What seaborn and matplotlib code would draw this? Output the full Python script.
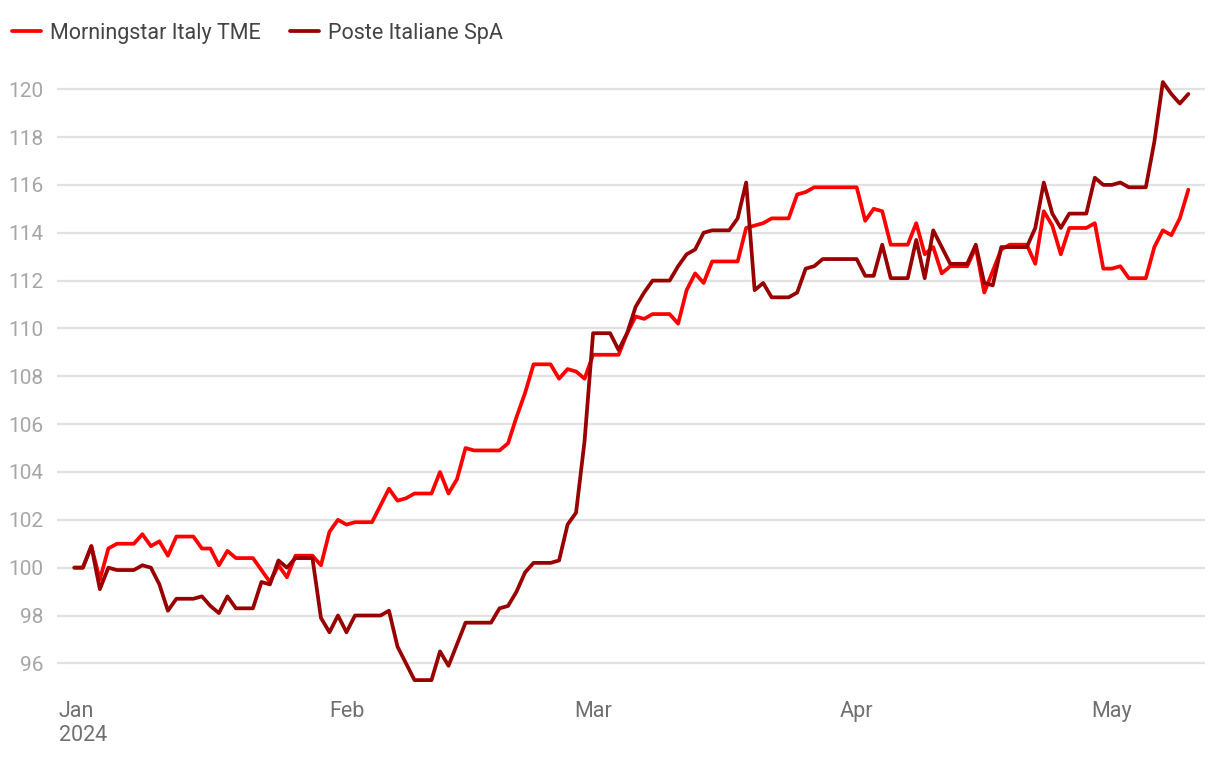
import pandas as pd
import matplotlib
matplotlib.use('Agg')
import matplotlib.pyplot as plt
import seaborn as sns

# daily values (calendar days, weekends carried flat), index = 100 at start
dates = pd.date_range('2023-12-31', '2024-05-10', freq='D')

italy_tme = [
    100.0, 100.0, 100.9, 99.5, 100.8, 101.0, 101.0, 101.0, 101.4, 100.9,
    101.1, 100.5, 101.3, 101.3, 101.3, 100.8, 100.8, 100.1, 100.7, 100.4,
    100.4, 100.4, 99.9, 99.4, 100.1, 99.6, 100.5, 100.5, 100.5, 100.1,
    101.5, 102.0, 101.8, 101.9, 101.9, 101.9, 102.6, 103.3, 102.8, 102.9,
    103.1, 103.1, 103.1, 104.0, 103.1, 103.7, 105.0, 104.9, 104.9, 104.9,
    104.9, 105.2, 106.3, 107.3, 108.5, 108.5, 108.5, 107.9, 108.3, 108.2,
    107.9, 108.9, 108.9, 108.9, 108.9, 109.8, 110.5, 110.4, 110.6, 110.6,
    110.6, 110.2, 111.6, 112.3, 111.9, 112.8, 112.8, 112.8, 112.8, 114.2,
    114.3, 114.4, 114.6, 114.6, 114.6, 115.6, 115.7, 115.9, 115.9, 115.9,
    115.9, 115.9, 115.9, 114.5, 115.0, 114.9, 113.5, 113.5, 113.5, 114.4,
    113.1, 113.4, 112.3, 112.6, 112.6, 112.6, 113.4, 111.5, 112.4, 113.3,
    113.5, 113.5, 113.5, 112.7, 114.9, 114.3, 113.1, 114.2, 114.2, 114.2,
    114.4, 112.5, 112.5, 112.6, 112.1, 112.1, 112.1, 113.4, 114.1, 113.9,
    114.6, 115.8,
]

poste = [
    100.0, 100.0, 100.9, 99.1, 100.0, 99.9, 99.9, 99.9, 100.1, 100.0,
    99.3, 98.2, 98.7, 98.7, 98.7, 98.8, 98.4, 98.1, 98.8, 98.3,
    98.3, 98.3, 99.4, 99.3, 100.3, 100.0, 100.4, 100.4, 100.4, 97.9,
    97.3, 98.0, 97.3, 98.0, 98.0, 98.0, 98.0, 98.2, 96.7, 96.0,
    95.3, 95.3, 95.3, 96.5, 95.9, 96.8, 97.7, 97.7, 97.7, 97.7,
    98.3, 98.4, 99.0, 99.8, 100.2, 100.2, 100.2, 100.3, 101.8, 102.3,
    105.3, 109.8, 109.8, 109.8, 109.1, 109.8, 110.9, 111.5, 112.0, 112.0,
    112.0, 112.6, 113.1, 113.3, 114.0, 114.1, 114.1, 114.1, 114.6, 116.1,
    111.6, 111.9, 111.3, 111.3, 111.3, 111.5, 112.5, 112.6, 112.9, 112.9,
    112.9, 112.9, 112.9, 112.2, 112.2, 113.5, 112.1, 112.1, 112.1, 113.7,
    112.1, 114.1, 113.4, 112.7, 112.7, 112.7, 113.5, 111.9, 111.8, 113.4,
    113.4, 113.4, 113.4, 114.2, 116.1, 114.8, 114.2, 114.8, 114.8, 114.8,
    116.3, 116.0, 116.0, 116.1, 115.9, 115.9, 115.9, 117.8, 120.3, 119.8,
    119.4, 119.8,
]

series_names = ['Morningstar Italy TME', 'Poste Italiane SpA']
series_colors = ['#ff0000', '#990000']

month_ticks = ['2024-01-01', '2024-02-01', '2024-03-01', '2024-04-01', '2024-05-01']
month_labels = ['Jan\n2024', 'Feb', 'Mar', 'Apr', 'May']
y_ticks = list(range(96, 121, 2))

df = pd.DataFrame({
    'date': list(dates) * 2,
    'value': italy_tme + poste,
    'series': [series_names[0]] * len(dates) + [series_names[1]] * len(dates),
})

sns.set_style('white')
plt.rcParams['font.family'] = ['Roboto', 'DejaVu Sans']

fig = plt.figure(figsize=(12.2, 7.68), dpi=100)
ax = fig.add_axes([0.047, 0.102, 0.941, 0.813])

sns.lineplot(data=df, x='date', y='value', hue='series', hue_order=series_names,
             palette=series_colors, linewidth=2.7, ax=ax)

ax.set_xlim(pd.Timestamp('2023-12-29'), pd.Timestamp('2024-05-12'))
ax.set_ylim(94.9, 121.0)
ax.set_yticks(y_ticks)
ax.set_xticks(pd.to_datetime(month_ticks))
ax.set_xticklabels(month_labels, ha='center', multialignment='left')
ax.set_xlabel('')
ax.set_ylabel('')

ax.grid(axis='y', color='#e2e2e2', linewidth=1.6)
ax.grid(axis='x', visible=False)
ax.set_axisbelow(True)
for s in ax.spines.values():
    s.set_visible(False)
ax.tick_params(axis='y', length=0, pad=10, labelsize=15, labelcolor='#a6a6a6')
ax.tick_params(axis='x', length=0, pad=8, labelsize=15.5, labelcolor='#707070')

handles, labels = ax.get_legend_handles_labels()
ax.legend(handles, labels, loc='center left', bbox_to_anchor=(0.0098, 0.957),
          bbox_transform=fig.transFigure, ncol=2, frameon=False, fontsize=15.5,
          borderpad=0, borderaxespad=0,
          handlelength=1.35, handletextpad=0.4, columnspacing=1.4, labelcolor='#444444')

fig.savefig('out.png', dpi=100)
